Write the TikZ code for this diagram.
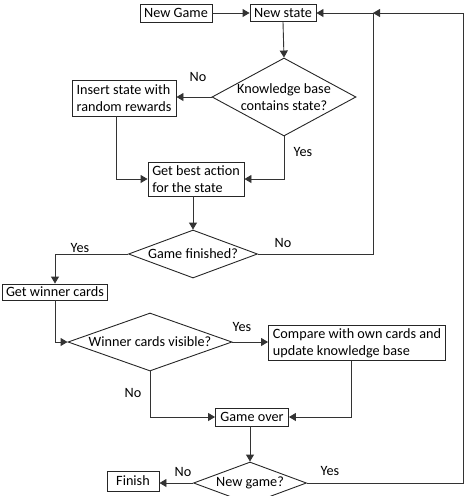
\documentclass[tikz,border=0pt]{standalone}
\usepackage{fontspec}
\setmainfont{Carlito}
\usetikzlibrary{shapes.geometric,arrows.meta}
\begin{document}
\begin{tikzpicture}[x=1pt,y=-1pt,
  every node/.style={font=\fontsize{14.2}{16.6}\selectfont},
  box/.style={draw=black!85,line width=0.9pt,rectangle,inner sep=0pt,align=left},
  dia/.style={draw=black!85,line width=0.9pt,diamond,inner sep=0pt},
  lbl/.style={inner sep=0pt},
  conn/.style={draw=black!80,line width=0.9pt},
  arr/.style={conn,-{Triangle[length=7pt,width=8pt]}}]
\useasboundingbox (0,0) rectangle (466,496);
\node[box,minimum width=72,minimum height=18] (ng) at (176,13) {New Game};
\node[box,minimum width=66,minimum height=17] (ns) at (283,13) {New state};
\node[dia,minimum width=144,minimum height=78,label={[align=center,inner sep=0pt]center:Knowledge base\\contains state?}] (kb) at (284,97) {};
\node[box,minimum width=104,minimum height=36] (ins) at (124,98) {Insert state with\\random rewards};
\node[box,minimum width=96,minimum height=34] (gba) at (196,179) {Get best action\\for the state};
\node[dia,minimum width=129,minimum height=48,label={center:Game finished?}] (gf) at (193,254) {};
\node[box,minimum width=105,minimum height=16] (gwc) at (55,292) {Get winner cards};
\node[dia,minimum width=164,minimum height=58,label={center:Winner cards visible?}] (wcv) at (150,342) {};
\node[box,minimum width=177,minimum height=35] (cmp) at (357,343) {Compare with own cards and\\update knowledge base};
\node[box,minimum width=73,minimum height=18] (go) at (252,417) {Game over};
\node[dia,minimum width=113,minimum height=42,label={center:New game?}] (ngm) at (250,483) {};
\node[box,minimum width=52,minimum height=20] (fin) at (133,481) {Finish};
\coordinate (r1) at (373,13);
\coordinate (r2) at (463,13);
\path[arr] (ng.east) -- (ns.west);
\path[arr] (ns.south) -- (kb.north);
\path[arr] (kb.west) -- (kb.west -| ins.east);
\path[arr] ([xshift=-8pt]ins.south) |- (gba.west);
\path[arr] (kb.south) |- (gba.east);
\path[arr] (gba.south -| gf.north) -- (gf.north);
\path[arr] (gf.east) -| (r1) -- (ns.east);
\path[arr] (gf.west) -| (gwc.north);
\path[arr] (gwc.south) |- (wcv.west);
\path[arr] (wcv.east) -- (wcv.east -| cmp.west);
\path[arr] ([xshift=-6pt]cmp.south) |- (go.east);
\path[arr] (wcv.south) |- (go.west);
\path[arr] (go.south -| ngm.north) -- (ngm.north);
\path[arr] (ngm.west) -- (ngm.west -| fin.east);
\path[arr] (ngm.east) -| (r2) -- (r1);
\node[lbl] (l1) at (198,77) {No};
\node[lbl] (l2) at (303,152) {Yes};
\node[lbl] (l3) at (283,243) {No};
\node[lbl] (l4) at (80,248) {Yes};
\node[lbl] (l5) at (242,327) {Yes};
\node[lbl] (l6) at (133,393) {No};
\node[lbl] (l7) at (183,472) {No};
\node[lbl] (l8) at (330,471) {Yes};
\end{tikzpicture}
\end{document}
